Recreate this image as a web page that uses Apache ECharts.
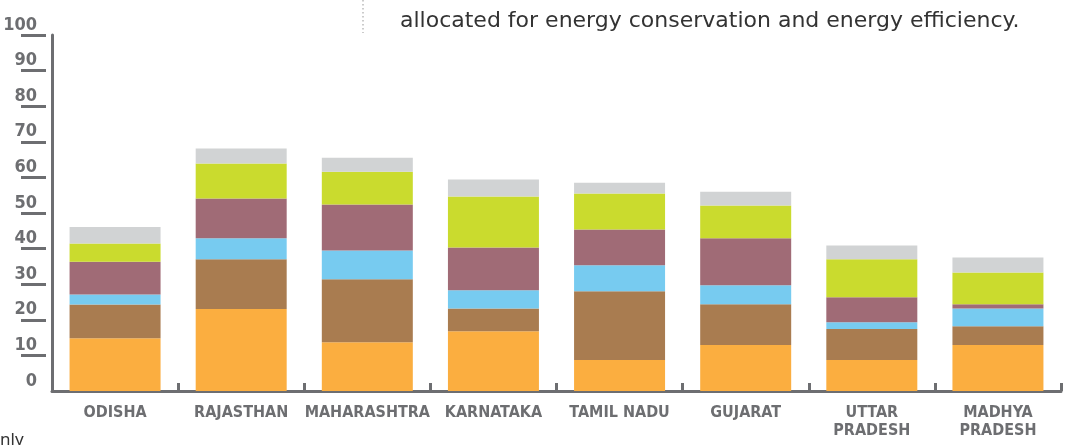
<!DOCTYPE html>
<html>
<head>
<meta charset="utf-8">
<script src="https://cdn.jsdelivr.net/npm/echarts@6/dist/echarts.min.js"></script>
<style>
  html, body { margin: 0; padding: 0; background: #fff; }
  #chart { width: 1069px; height: 445px; }
</style>
</head>
<body>
<div id="chart"></div>
<script>
// states along the x axis
const states = ['ODISHA', 'RAJASTHAN', 'MAHARASHTRA', 'KARNATAKA', 'TAMIL NADU', 'GUJARAT', 'UTTAR\nPRADESH', 'MADHYA\nPRADESH'];

// stacked segments, bottom to top
const orangePart = [14.8, 23.0, 13.7, 16.8, 8.7, 12.9, 8.7, 12.9];
const brownPart  = [9.5, 14.0, 17.7, 6.4, 19.3, 11.5, 8.7, 5.3];
const bluePart   = [2.8, 5.9, 8.1, 5.1, 7.3, 5.3, 1.9, 5.0];
const mauvePart  = [9.2, 11.2, 12.9, 12.0, 10.1, 13.2, 7.0, 1.2];
const greenPart  = [5.1, 9.8, 9.2, 14.3, 10.1, 9.2, 10.7, 8.9];
const greyPart   = [4.7, 4.2, 3.9, 4.8, 3.0, 3.9, 3.9, 4.2];

const yTicks = [10, 20, 30, 40, 50, 60, 70, 80, 90, 100];

const axisGrey = '#6d6e71';
// condensed face: the stretch keyword rides along with the weight
const narrowFont = "'DejaVu Sans', sans-serif";
const narrowWeight = 'bold condensed';

const chart = echarts.init(document.getElementById('chart'));

const mkSeries = (name, data, color) => ({
  name: name,
  type: 'bar',
  stack: 'total',
  barWidth: 91,
  itemStyle: { color: color },
  emphasis: { disabled: true },
  data: data
});

const option = {
  animation: false,
  grid: { left: 52, right: 8, top: 35, bottom: 54, containLabel: false },
  xAxis: {
    type: 'category',
    data: states,
    axisLine: { lineStyle: { color: axisGrey, width: 3 } },
    axisTick: { show: true, inside: true, length: 8, lineStyle: { color: axisGrey, width: 3 } },
    axisLabel: {
      interval: 0,
      margin: 13,
      color: axisGrey,
      fontFamily: narrowFont,
      fontWeight: narrowWeight,
      fontSize: 16,
      lineHeight: 18
    },
    splitLine: { show: false }
  },
  yAxis: [
    {
      type: 'value',
      min: 0,
      max: 100,
      interval: 10,
      axisLine: { show: true, lineStyle: { color: axisGrey, width: 3 } },
      axisTick: { show: false },
      axisLabel: { show: false },
      splitLine: { show: false }
    },
    {
      type: 'value',
      position: 'left',
      offset: 6,
      min: 0,
      max: 100,
      interval: 10,
      axisLine: { show: false },
      axisTick: {
        show: true,
        length: 25,
        customValues: yTicks,
        lineStyle: { color: axisGrey, width: 3 }
      },
      axisLabel: {
        margin: 9,
        color: axisGrey,
        fontFamily: narrowFont,
        fontWeight: narrowWeight,
        fontSize: 18,
        verticalAlign: 'bottom',
        padding: [0, 0, 1, 0]
      },
      splitLine: { show: false }
    }
  ],
  series: [
    mkSeries('orange', orangePart, '#fbae40'),
    mkSeries('brown', brownPart, '#a97c50'),
    mkSeries('blue', bluePart, '#77cbf0'),
    mkSeries('mauve', mauvePart, '#a06b76'),
    mkSeries('green', greenPart, '#cadb2e'),
    mkSeries('grey', greyPart, '#d1d3d4')
  ],
  graphic: [
    {
      type: 'line',
      shape: { x1: 363, y1: 0, x2: 363, y2: 33 },
      style: { stroke: '#bbbbbb', lineWidth: 1.5, lineDash: [1.5, 2.5] }
    },
    {
      type: 'text',
      left: 400,
      top: 10,
      style: {
        text: 'allocated for energy conservation and energy efficiency.',
        font: "22px 'DejaVu Sans', sans-serif",
        fill: '#333333'
      }
    },
    {
      type: 'text',
      left: 0,
      top: 432,
      style: {
        text: 'nly',
        font: "17px 'Noto Sans', sans-serif",
        fill: '#333333'
      }
    }
  ]
};

chart.setOption(option);
</script>
</body>
</html>
